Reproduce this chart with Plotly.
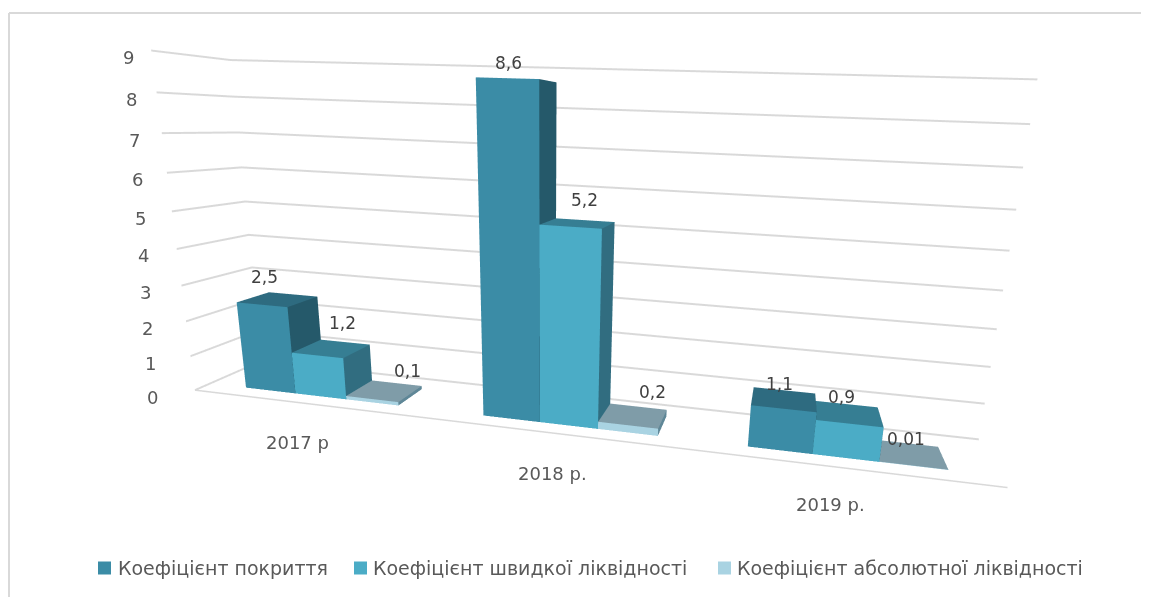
import plotly.graph_objects as go

# The browser page keeps its default 8 px body margin, so the figure fills the rest of the 1149x597 window.
PAGE_MARGIN = 8
W, H = 1149 - PAGE_MARGIN, 597 - PAGE_MARGIN

categories = ["2017 р", "2018 р.", "2019 р."]
series_names = ["Коефіцієнт покриття", "Коефіцієнт швидкої ліквідності", "Коефіцієнт абсолютної ліквідності"]
s1 = [2.5, 8.6, 1.1]
s2 = [1.2, 5.2, 0.9]
s3 = [0.1, 0.2, 0.01]
labels1 = ["2,5", "8,6", "1,1"]
labels2 = ["1,2", "5,2", "0,9"]
labels3 = ["0,1", "0,2", "0,01"]
z_ticks = list(range(10))

series = [s1, s2, s3]
series_labels = [labels1, labels2, labels3]
# colour triples: front, side, top
palette = [("#3b8ca6", "#25596a", "#2e6b80"),
           ("#4bacc6", "#316d80", "#367e93"),
           ("#a9d3e2", "#5f8797", "#7f9ca8")]
# cluster geometry on the category axis
cluster_start = [0.1654, 1.1804, 2.1688]
bar_width = 0.2224
depth_front, depth_back = 0.2091, 0.6951
# pixel nudges of the value labels (series x category)
label_dx = [[-13, -9, -4], [11, 6, -6], [23, 19, -3]]
label_dy = [[10, 5, 3], [14, 11, 5], [8, 12, 3]]
cat_dx = [-10, -10, -17]
cat_dy = [-39, -39, -36]

TXT = "#595959"
FONT = "DejaVu Sans"
LINE = "#d9d9d9"


def box(x0, x1, y0, y1, z1, cols):
    X = [x0, x1, x1, x0, x0, x1, x1, x0]
    Y = [y0, y0, y1, y1, y0, y0, y1, y1]
    Z = [0, 0, 0, 0, z1, z1, z1, z1]
    I = [0, 0, 1, 1, 4, 4]
    J = [1, 5, 2, 6, 5, 6]
    K = [5, 4, 6, 5, 6, 7]
    fc = [cols[0], cols[0], cols[1], cols[1], cols[2], cols[2]]
    return go.Mesh3d(x=X, y=Y, z=Z, i=I, j=J, k=K, facecolor=fc, flatshading=True,
                     lighting=dict(ambient=1, diffuse=0, specular=0, fresnel=0, roughness=1),
                     hoverinfo="skip", showlegend=False)


fig = go.Figure()
scene_ann = []
for c in range(len(categories)):
    for k, vals in enumerate(series):
        x0 = cluster_start[c] + k * bar_width
        fig.add_trace(box(x0, x0 + bar_width, depth_front, depth_back, vals[c], palette[k]))
        scene_ann.append(dict(x=x0 + bar_width / 2, y=(depth_front + depth_back) / 2, z=vals[c],
                              text=series_labels[k][c], showarrow=False, yanchor="bottom",
                              xshift=label_dx[k][c], yshift=label_dy[k][c],
                              font=dict(size=17, color="#404040", family=FONT)))
for v in z_ticks:
    scene_ann.append(dict(x=0, y=0, z=v, text=str(v), showarrow=False, xanchor="right",
                          xshift=-35 + v * 2.2, yshift=-7, font=dict(size=18, color=TXT, family=FONT)))
for c, t in enumerate(categories):
    scene_ann.append(dict(x=cluster_start[c] + 1.5 * bar_width, y=0, z=0, text=t, showarrow=False,
                          xshift=cat_dx[c], yshift=cat_dy[c], font=dict(size=18, color=TXT, family=FONT)))
# front edge of the floor
fig.add_trace(go.Scatter3d(x=[0, 3], y=[0, 0], z=[0, 0], mode="lines", line=dict(color=LINE, width=3),
                           hoverinfo="skip", showlegend=False))


def px(x):
    return (x - PAGE_MARGIN) / W


def py(y):
    return 1 - (y - PAGE_MARGIN) / H


shapes = [dict(type="line", xref="paper", yref="paper", x0=px(9), x1=1, y0=py(13), y1=py(13),
               line=dict(color=LINE, width=2)),
          dict(type="line", xref="paper", yref="paper", x0=px(9), x1=px(9), y0=0, y1=py(13),
               line=dict(color=LINE, width=2))]
ann = []
legend_marker_x = [98, 354, 718]
legend_text_x = [116, 371, 735]
legend_y = 568
for lx, tx, name, col in zip(legend_marker_x, legend_text_x, series_names, [p[0] for p in palette]):
    shapes.append(dict(type="rect", xref="paper", yref="paper", x0=px(lx), x1=px(lx + 13),
                       y0=py(legend_y + 6.5), y1=py(legend_y - 6.5), line=dict(width=0), fillcolor=col))
    ann.append(dict(x=px(tx), y=py(legend_y), xref="paper", yref="paper", xanchor="left", yanchor="middle",
                    showarrow=False, text=name, font=dict(size=19, color=TXT, family=FONT)))

ax = dict(showbackground=False, showspikes=False, title="", zeroline=False, showticklabels=False,
          ticks="", showline=False)
fig.update_layout(
    width=W, height=H, margin=dict(l=0, r=0, t=0, b=0), paper_bgcolor="white",
    shapes=shapes, annotations=ann,
    scene=dict(
        domain=dict(x=[142 / W, 1], y=[0, 1]), dragmode="orbit", aspectmode="manual",
        aspectratio=dict(x=2, y=0.2461, z=0.8475), annotations=scene_ann,
        camera=dict(eye=dict(x=0.4898, y=-1.6225, z=0.3030),
                    center=dict(x=0.3298, y=-0.7685, z=0.0830),
                    up=dict(x=-0.0818, y=0.2339, z=0.9688),
                    projection=dict(type="perspective")),
        xaxis=dict(ax, range=[0, 3], showgrid=False),
        yaxis=dict(ax, range=[0, 1], showgrid=False),
        zaxis=dict(ax, range=[0, 9], tickvals=z_ticks, showgrid=True, gridcolor=LINE, gridwidth=4),
    ),
)
fig.write_html("out.html")
